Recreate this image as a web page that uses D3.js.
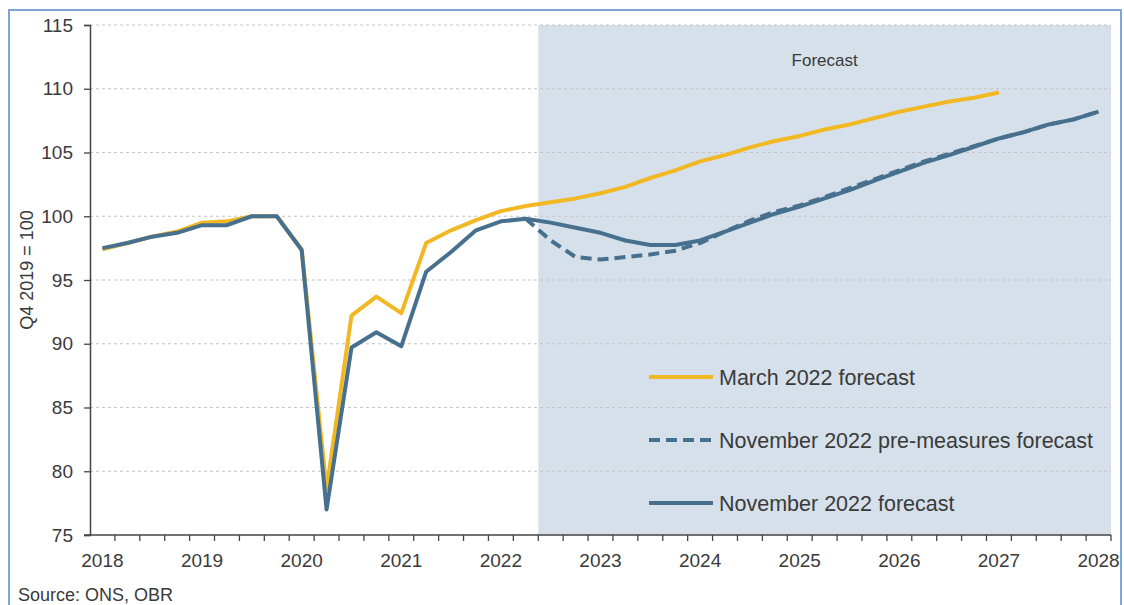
<!DOCTYPE html>
<html>
<head>
<meta charset="utf-8">
<script src="https://cdn.jsdelivr.net/npm/d3@7"></script>
<style>
  body { margin: 0; background: #fff; }
  svg text { font-family: "Liberation Sans", Arial, sans-serif; fill: #3a3a3a; }
</style>
</head>
<body>
<div id="chart"></div>
<script>
const quarters = [
  '2018Q1', '2018Q2', '2018Q3', '2018Q4',
  '2019Q1', '2019Q2', '2019Q3', '2019Q4',
  '2020Q1', '2020Q2', '2020Q3', '2020Q4',
  '2021Q1', '2021Q2', '2021Q3', '2021Q4',
  '2022Q1', '2022Q2', '2022Q3', '2022Q4',
  '2023Q1', '2023Q2', '2023Q3', '2023Q4',
  '2024Q1', '2024Q2', '2024Q3', '2024Q4',
  '2025Q1', '2025Q2', '2025Q3', '2025Q4',
  '2026Q1', '2026Q2', '2026Q3', '2026Q4',
  '2027Q1', '2027Q2', '2027Q3', '2027Q4',
  '2028Q1'
];

// March 2022 forecast, 2018Q1 .. 2027Q1
const march2022 = [
  97.4, 97.9, 98.4, 98.8, 99.5, 99.6, 100.0, 100.0,
  97.4, 78.6, 92.2, 93.7, 92.4, 97.9, 98.9, 99.7,
  100.4, 100.8, 101.1, 101.4, 101.8, 102.3, 103.0, 103.6,
  104.3, 104.8, 105.4, 105.9, 106.3, 106.8, 107.2, 107.7,
  108.2, 108.6, 109.0, 109.3, 109.7
];

// November 2022 forecast, 2018Q1 .. 2028Q1
const nov2022 = [
  97.5, 97.9, 98.4, 98.7, 99.3, 99.3, 100.0, 100.0,
  97.35, 77.0, 89.7, 90.9, 89.8, 95.65, 97.2, 98.9,
  99.6, 99.8, 99.5, 99.1, 98.7, 98.1, 97.75, 97.75,
  98.1, 98.8, 99.5, 100.2, 100.75, 101.4, 102.05, 102.8,
  103.5, 104.2, 104.8, 105.45, 106.1, 106.6, 107.2, 107.6,
  108.2
];

// November 2022 pre-measures forecast, 2022Q2 .. 2028Q1
const novPreStart = '2022Q2';
const novPre = [
  99.8, 98.1, 96.8, 96.6, 96.8, 97.0, 97.3,
  97.9, 98.8, 99.65, 100.35, 100.85, 101.5, 102.2, 102.9,
  103.6, 104.3, 104.9, 105.5, 106.1, 106.6, 107.2, 107.6,
  108.2
];

const forecastStart = '2022Q3';
const yearLabels = ['2018', '2019', '2020', '2021', '2022', '2023', '2024', '2025', '2026', '2027', '2028'];
const yTicks = [75, 80, 85, 90, 95, 100, 105, 110, 115];

const legendItems = [
  { label: 'March 2022 forecast', color: '#f2b824', dash: null },
  { label: 'November 2022 pre-measures forecast', color: '#46708e', dash: '11,6' },
  { label: 'November 2022 forecast', color: '#46708e', dash: null }
];

const width = 1124;
const height = 605;
const margin = { top: 25, right: 13, bottom: 70, left: 90 };

const svg = d3.select('#chart')
  .append('svg')
  .attr('width', width)
  .attr('height', height);

// frame
svg.append('rect')
  .attr('x', 9).attr('y', 10)
  .attr('width', 1112).attr('height', 640)
  .attr('fill', 'none')
  .attr('stroke', '#7fa6d6')
  .attr('stroke-width', 2);

const x = d3.scaleBand()
  .domain(quarters)
  .range([margin.left, width - margin.right])
  .paddingInner(0)
  .paddingOuter(0);

const y = d3.scaleLinear()
  .domain([75, 115])
  .range([height - margin.bottom, margin.top]);

const cx = q => x(q) + x.bandwidth() / 2;
const x0 = margin.left;
const x1 = width - margin.right;

// forecast shading
svg.append('rect')
  .attr('x', x(forecastStart))
  .attr('y', y(115))
  .attr('width', x1 - x(forecastStart))
  .attr('height', y(75) - y(115))
  .attr('fill', '#d6e0ea');

svg.append('text')
  .attr('x', (x(forecastStart) + x1) / 2)
  .attr('y', 66)
  .attr('text-anchor', 'middle')
  .style('font-size', '17px')
  .text('Forecast');

// gridlines
svg.append('g')
  .selectAll('line')
  .data(yTicks.filter(d => d > 75))
  .enter()
  .append('line')
  .attr('x1', x0)
  .attr('x2', x1)
  .attr('y1', d => y(d))
  .attr('y2', d => y(d))
  .attr('stroke', '#c4c4c4')
  .attr('stroke-width', 1.2)
  .attr('stroke-dasharray', '3,3');

// lines
const line = d3.line()
  .x(d => cx(d.q))
  .y(d => y(d.v));

const marchData = march2022.map((v, i) => ({ q: quarters[i], v: v }));
const novData = nov2022.map((v, i) => ({ q: quarters[i], v: v }));
const preOffset = quarters.indexOf(novPreStart);
const preData = novPre.map((v, i) => ({ q: quarters[preOffset + i], v: v }));

svg.append('path')
  .datum(marchData)
  .attr('d', line)
  .attr('fill', 'none')
  .attr('stroke', legendItems[0].color)
  .attr('stroke-width', 4)
  .attr('stroke-linejoin', 'round');

svg.append('path')
  .datum(novData)
  .attr('d', line)
  .attr('fill', 'none')
  .attr('stroke', legendItems[2].color)
  .attr('stroke-width', 4)
  .attr('stroke-linejoin', 'round');

svg.append('path')
  .datum(preData)
  .attr('d', line)
  .attr('fill', 'none')
  .attr('stroke', legendItems[1].color)
  .attr('stroke-width', 4)
  .attr('stroke-dasharray', legendItems[1].dash);

// y axis
const yAxis = svg.append('g')
  .attr('transform', `translate(${x0},0)`)
  .call(d3.axisLeft(y).tickValues(yTicks).tickSize(6).tickPadding(11));
yAxis.select('.domain').attr('stroke', '#444').attr('stroke-width', 1.5);
yAxis.selectAll('.tick line').attr('stroke', '#444').attr('stroke-width', 1.3);
yAxis.selectAll('.tick text')
  .style('font-size', '19px')
  .attr('fill', '#3a3a3a');

// x axis: ticks between quarters, labels at Q1 of each year
const xBase = y(75);
svg.append('g')
  .selectAll('line')
  .data(quarters.slice(1).concat(['end']))
  .enter()
  .append('line')
  .attr('x1', d => d === 'end' ? x1 : x(d))
  .attr('x2', d => d === 'end' ? x1 : x(d))
  .attr('y1', xBase)
  .attr('y2', xBase + 6)
  .attr('stroke', '#444')
  .attr('stroke-width', 1.3);

svg.append('line')
  .attr('x1', x0 - 6).attr('x2', x1)
  .attr('y1', xBase).attr('y2', xBase)
  .attr('stroke', '#444')
  .attr('stroke-width', 1.5);

svg.append('g')
  .selectAll('text')
  .data(yearLabels)
  .enter()
  .append('text')
  .attr('x', d => cx(d + 'Q1'))
  .attr('y', xBase + 32)
  .attr('text-anchor', 'middle')
  .style('font-size', '19px')
  .text(d => d);

// y title
svg.append('text')
  .attr('transform', 'translate(33,270) rotate(-90)')
  .attr('text-anchor', 'middle')
  .style('font-size', '18px')
  .text('Q4 2019 = 100');

// source
svg.append('text')
  .attr('x', 18)
  .attr('y', 601)
  .style('font-size', '18px')
  .text('Source: ONS, OBR');

// legend
const legendRows = [377, 440, 503];
const legend = svg.append('g')
  .selectAll('g')
  .data(legendItems)
  .enter()
  .append('g')
  .attr('transform', (d, i) => `translate(649,${legendRows[i]})`);

legend.append('line')
  .attr('x1', 0).attr('x2', 64)
  .attr('stroke', d => d.color)
  .attr('stroke-width', 4)
  .attr('stroke-dasharray', d => d.dash);

legend.append('text')
  .attr('x', 70)
  .attr('dy', '0.35em')
  .style('font-size', '21.5px')
  .attr('fill', '#2a2a2a')
  .text(d => d.label);
</script>
</body>
</html>
